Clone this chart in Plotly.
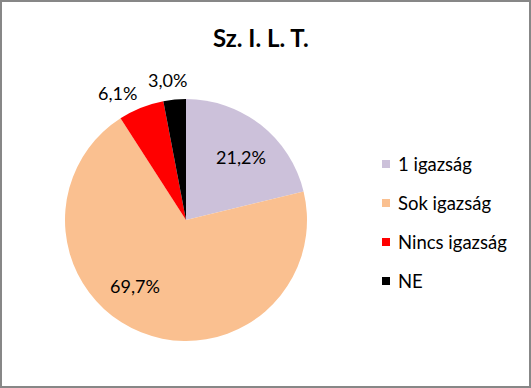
import math
import plotly.graph_objects as go

categories = ["1 igazság", "Sok igazság", "Nincs igazság", "NE"]
values = [21.2, 69.7, 6.1, 3.0]
colors = ["#CCC1DA", "#FAC090", "#FF0000", "#000000"]
title_text = "Sz. I. L. T."

# label placement (style): polar angle (deg, clockwise from top) and radius as fraction of pie radius
label_angle = [41.1, 217.7, 331.5, 352.6]
label_radius = [0.69, 0.69, 1.195, 1.165]

W, H = 531, 388
FONT = "Lato, Calibri, 'Open Sans', sans-serif"

cx, cy, r = 186, 220, 121
fig = go.Figure(go.Pie(
    labels=categories, values=values, sort=False, direction="clockwise", rotation=0,
    marker=dict(colors=colors, line=dict(width=0)),
    textinfo="none",
    domain=dict(x=[(cx - r) / W, (cx + r) / W], y=[(H - cy - r) / H, (H - cy + r) / H]),
    showlegend=False, hoverinfo="label+percent",
))

shapes = [dict(type="rect", xref="paper", yref="paper", x0=0, y0=0, x1=1, y1=1,
               line=dict(color="#878787", width=4), fillcolor="rgba(0,0,0,0)")]
annotations = [dict(text="<b>" + title_text + "</b>", x=261 / W, y=1 - 37 / H, xref="paper", yref="paper",
                    showarrow=False, font=dict(family=FONT, size=24, color="black"),
                    xanchor="center", yanchor="middle")]

total = sum(values)
for v, a, rf in zip(values, label_angle, label_radius):
    pct = 100 * v / total
    txt = f"{pct:.1f}".replace(".", ",") + "%"
    th = math.radians(a)
    px = cx + rf * r * math.sin(th)
    py = cy - rf * r * math.cos(th)
    annotations.append(dict(text=txt, x=px / W, y=1 - py / H, xref="paper", yref="paper",
                            showarrow=False, xanchor="center", yanchor="middle",
                            font=dict(family=FONT, size=18, color="black")))

for i, (cat, col) in enumerate(zip(categories, colors)):
    yc = 164 + 39 * i
    shapes.append(dict(type="rect", xref="paper", yref="paper",
                       x0=382 / W, x1=390 / W, y0=1 - (yc + 4) / H, y1=1 - (yc - 4) / H,
                       fillcolor=col, line=dict(width=0)))
    annotations.append(dict(text=cat, x=396 / W, y=1 - yc / H, xref="paper", yref="paper",
                            showarrow=False, xanchor="left", yanchor="middle",
                            font=dict(family=FONT, size=18.5, color="black")))

fig.update_layout(width=W, height=H, margin=dict(l=0, r=0, t=0, b=0),
                  paper_bgcolor="white", separators=",.",
                  shapes=shapes, annotations=annotations)
fig.write_html("out.html", config={"displayModeBar": False},
               post_script="document.body.style.margin='0';")
